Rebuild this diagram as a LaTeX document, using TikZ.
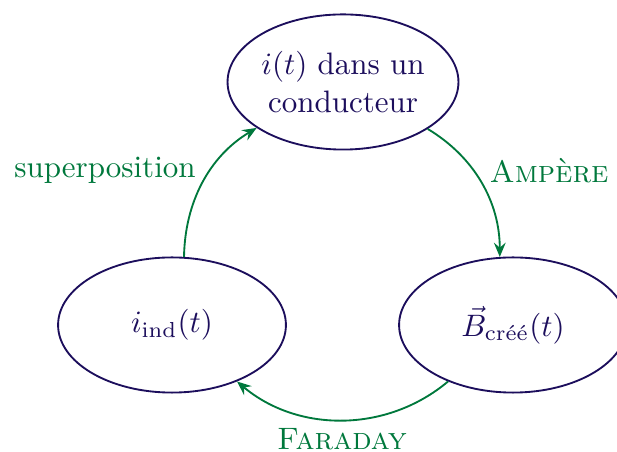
\documentclass[tikz,border=0pt]{standalone}
\usepackage{amsmath}
\usetikzlibrary{shapes.geometric,arrows.meta}
\definecolor{ncol}{RGB}{28,14,92}
\definecolor{gcol}{RGB}{0,120,60}
\begin{document}
\begin{tikzpicture}[x=0.32258pt,y=0.32258pt,
  etat/.style={ellipse,draw=ncol,text=ncol,line width=0.6pt,inner sep=0pt,
    minimum width=73.5pt,minimum height=43.6pt,align=center},
  fleche/.style={draw=gcol,line width=0.6pt,-{Stealth[length=4.6pt,width=3.8pt,inset=1.6pt]}},
  lab/.style={text=gcol,anchor=base,inner sep=0pt}]
\useasboundingbox (0,0) rectangle (617,-452);
\node[etat] (T) at (343,-82) {$i(t)$ dans un\\conducteur};
\node[etat] (L) at (172,-325) {$i_{\mathrm{ind}}(t)$};
\node[etat] (R) at (513,-325) {$\vec{B}_{\text{créé}}(t)$};
\draw[fleche] (L.80) to[out=89,in=211,looseness=0.95] (T.208);
\draw[fleche] (T.331) to[out=-31,in=90,looseness=0.95] (R.101);
\draw[fleche] (R.221) to[out=220,in=-40,looseness=0.97] (L.319);
\node[lab] (sup) at (105,-178) {superposition};
\node[lab] (amp) at (549,-183) {\textsc{Ampère}};
\node[lab] (far) at (342,-450) {\textsc{Faraday}};
\end{tikzpicture}
\end{document}
